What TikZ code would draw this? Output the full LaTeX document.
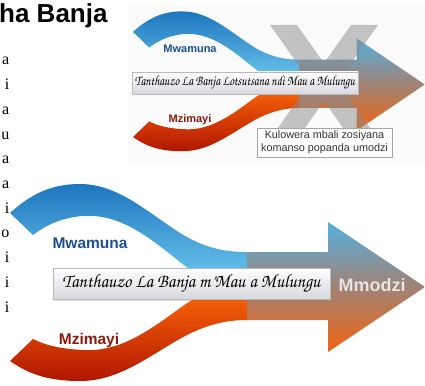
\documentclass[tikz,border=0pt]{standalone}
\usepackage[T1,TU]{fontenc}
\usepackage{fontspec}
\setmainfont{Liberation Serif}
\setsansfont{Liberation Sans}
\usepackage{graphicx}
\usetikzlibrary{shadows}
\definecolor{blueTop}{HTML}{1E76BF}
\definecolor{blueBot}{HTML}{70CBF0}
\definecolor{redTop}{HTML}{FF6A08}
\definecolor{redBot}{HTML}{B01600}
\definecolor{arrTop}{HTML}{55B0DE}
\definecolor{arrMid}{HTML}{A08274}
\definecolor{arrBot}{HTML}{F26412}
\definecolor{manCol}{HTML}{1C4F8F}
\definecolor{womanCol}{HTML}{8E1A0E}
\definecolor{boxBot}{HTML}{D8D8E0}
\definecolor{xCol}{HTML}{8A8A8A}
\definecolor{bgCol}{HTML}{FBFBFB}
\newcommand\chorus{\usefont{T1}{pzc}{mb}{it}}
\tikzset{
  blueribbon/.style={top color=blueTop, bottom color=blueBot},
  redribbon/.style={top color=redTop, bottom color=redBot},
  arrowshade/.style={top color=arrTop, bottom color=arrBot, middle color=arrMid},
  tbox/.style={draw=gray!55, line width=0.4pt, top color=white, bottom color=boxBot,
    inner sep=0pt, drop shadow={opacity=0.25, shadow xshift=1pt, shadow yshift=-1.5pt}},
  lbox/.style={draw=gray!70, line width=0.5pt, fill=white, inner sep=0pt, align=center,
    text=black!80, font=\sffamily\fontsize{10.8}{12.6}\selectfont},
  manlabel/.style={text=manCol, font=\sffamily\bfseries, inner sep=0pt},
  womanlabel/.style={text=womanCol, font=\sffamily\bfseries, inner sep=0pt},
  letter/.style={anchor=base east, inner sep=0pt, font=\fontsize{16}{16}\selectfont},
}
\newcommand\ribbonsarrow{%
  \shade[blueribbon] (10,213) .. controls (30,195) and (50,184) .. (80,184)
    .. controls (120,184) and (150,215) .. (185,236)
    .. controls (210,250) and (230,252) .. (247,252) -- (247,286.5)
    .. controls (215,286.5) and (200,278) .. (180,262)
    .. controls (150,238) and (120,213) .. (82,216)
    .. controls (60,218) and (45,226) .. (33,235) -- cycle;
  \shade[redribbon] (10,361) .. controls (30,375) and (50,381) .. (80,381)
    .. controls (120,381) and (150,355) .. (185,336)
    .. controls (210,323) and (230,320) .. (247,320) -- (247,286)
    .. controls (215,286) and (200,294) .. (180,308)
    .. controls (150,330) and (120,352) .. (84,350)
    .. controls (60,349) and (45,345) .. (33,339) -- cycle;
  \shade[arrowshade] (247,252) -- (328,252) -- (328,222) -- (425,287)
    -- (328,352) -- (328,320) -- (247,320) -- cycle;
}
\begin{document}
\begin{tikzpicture}[x=1pt,y=-1pt]
\useasboundingbox (0,0) rectangle (425,385);
\fill[bgCol] (128,5) rectangle (425,162);
% title and cut-off text column
\node[anchor=base west, inner sep=0pt, font=\sffamily\bfseries\fontsize{26}{26}\selectfont] (title) at (-1,23) {ha Banja};
\foreach \l [count=\i from 0] in {a,i,a,u,a,a,i,o,i,i,i}
  \node[letter] (col\i) at (9.5,65+24.7*\i) {\l};
% ---------- top (crossed-out) diagram ----------
\begin{scope}[shift={(125.97,-119.27)}, xscale=0.703, yscale=0.71]
  \ribbonsarrow
\end{scope}
\fill[xCol, opacity=0.5] (270,25) -- (297,25) -- (378,139) -- (351,139) -- cycle
  (351,25) -- (378,25) -- (297,139) -- (270,139) -- cycle;
\node[tbox, minimum width=226, minimum height=22] (tbA) at (245,83)
  {\resizebox{220pt}{10pt}{\chorus Tanthauzo La Banja Lotsutsana ndi Mau a Mulungu}};
\node[manlabel, font=\sffamily\bfseries\fontsize{11}{11}\selectfont] (manA) at (190,49) {Mwamuna};
\node[womanlabel, font=\sffamily\bfseries\fontsize{11}{11}\selectfont] (womanA) at (190,120) {Mzimayi};
\node[lbox, minimum width=135, minimum height=29] (note) at (324.5,142.5)
  {Kulowera mbali zosiyana\\komanso popanda umodzi};
% ---------- bottom diagram ----------
\ribbonsarrow
\node[tbox, minimum width=277, minimum height=31] (tbB) at (191.5,283.5)
  {\resizebox{258pt}{13.5pt}{\chorus Tanthauzo La Banja m'Mau a Mulungu}};
\node[manlabel, font=\sffamily\bfseries\fontsize{15.5}{15.5}\selectfont] (manB) at (90,243) {Mwamuna};
\node[womanlabel, font=\sffamily\bfseries\fontsize{15.5}{15.5}\selectfont] (womanB) at (89,340) {Mzimayi};
\node[inner sep=0pt, text=white!90!black, font=\sffamily\bfseries\fontsize{18}{18}\selectfont] (one) at (372,285) {Mmodzi};
\end{tikzpicture}
\end{document}
